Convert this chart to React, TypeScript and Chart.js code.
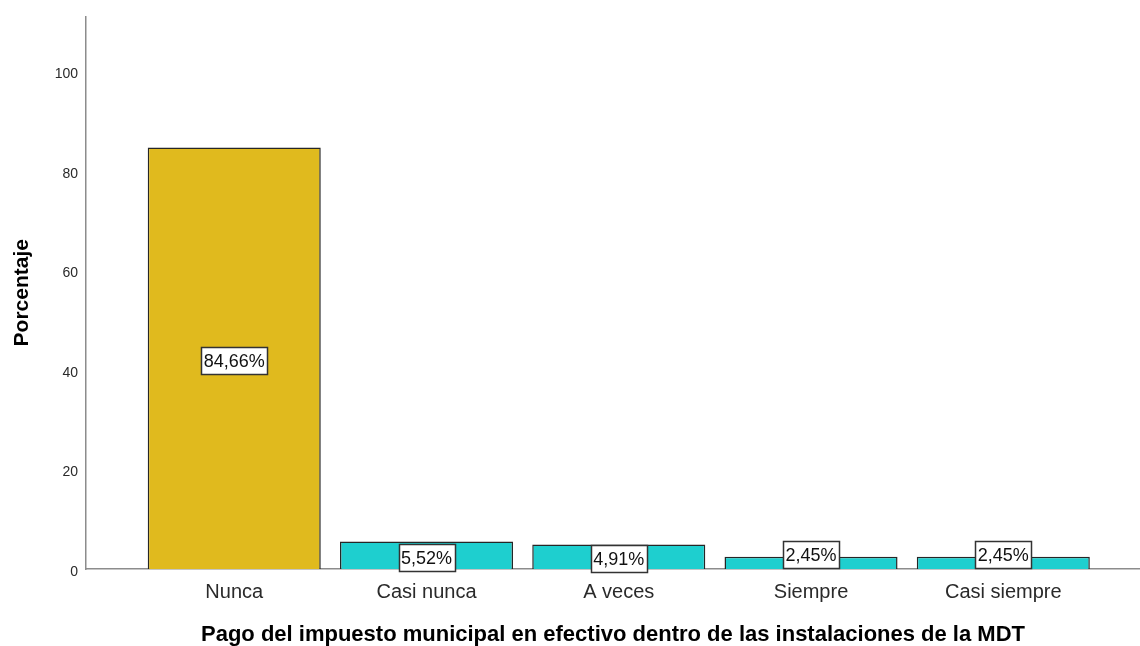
import React, { useEffect, useRef } from 'react';
import { Chart, registerables } from 'chart.js';

Chart.register(...registerables);

const categories = ['Nunca', 'Casi nunca', 'A veces', 'Siempre', 'Casi siempre'];
const percentages = [84.66, 5.52, 4.91, 2.45, 2.45];
const valueLabels = ['84,66%', '5,52%', '4,91%', '2,45%', '2,45%'];
const yTicks = [0, 20, 40, 60, 80, 100];
const xTitle = 'Pago del impuesto municipal en efectivo dentro de las instalaciones de la MDT';
const yTitle = 'Porcentaje';

const barColors = ['#E0BA1E', '#1ECFCF', '#1ECFCF', '#1ECFCF', '#1ECFCF'];
const FONT = '"Liberation Sans", Arial, sans-serif';

const boxLabels = {
  id: 'boxLabels',
  afterDatasetsDraw(chart: any) {
    const ctx = chart.ctx;
    const meta = chart.getDatasetMeta(0);
    ctx.save();
    ctx.font = `18px ${FONT}`;
    meta.data.forEach((bar: any, i: number) => {
      const { x, y, base } = bar.getProps(['x', 'y', 'base'], true);
      const text = valueLabels[i];
      const tw = ctx.measureText(text).width;
      const w = Math.round(tw + 5);
      const h = 27;
      let cy = (y + base) / 2 + 2;
      if (cy + h / 2 > base + 4) cy = base - 1 - h / 2;
      const left = Math.round(x - w / 2) + 0.5;
      const top = Math.round(cy - h / 2) + 0.5;
      ctx.fillStyle = '#ffffff';
      ctx.fillRect(left, top, w, h);
      ctx.strokeStyle = '#333333';
      ctx.lineWidth = 1.5;
      ctx.strokeRect(left, top, w, h);
      ctx.fillStyle = '#111111';
      ctx.textAlign = 'center';
      ctx.textBaseline = 'middle';
      ctx.fillText(text, x, top + h / 2 + 1);
    });
    ctx.restore();
  },
};

export default function App() {
  const ref = useRef<HTMLCanvasElement | null>(null);

  useEffect(() => {
    if (!ref.current) return;
    const chart = new Chart(ref.current, {
      type: 'bar',
      data: {
        datasets: [
          {
            data: percentages.map((v, i) => ({ x: i, y: v })),
            backgroundColor: barColors,
            borderColor: '#262626',
            borderWidth: 1.5,
            categoryPercentage: 1,
            barPercentage: 0.9,
          },
        ],
      },
      options: {
        responsive: false,
        animation: false,
        layout: { padding: { top: 14, left: 0, right: 0, bottom: 0 } },
        plugins: {
          legend: { display: false },
          tooltip: { enabled: false },
        },
        scales: {
          x: {
            type: 'linear',
            offset: false,
            min: -0.771,
            max: 4.711,
            grid: { display: false, drawTicks: false, offset: false },
            border: { display: true, color: '#8c8c8c', width: 1.5 },
            afterBuildTicks: (s: any) => {
              s.ticks = categories.map((_, i) => ({ value: i }));
            },
            afterFit: (s: any) => {
              s.height = 77;
            },
            ticks: {
              callback: (v: any) => categories[v] ?? '',
              padding: 11,
              autoSkip: false,
              maxRotation: 0,
              color: '#2a2a2a',
              font: { family: FONT, size: 20 },
            },
            title: {
              display: true,
              text: xTitle,
              color: '#000000',
              font: { family: FONT, size: 22, weight: 'bold', lineHeight: 1 },
              padding: { top: 0, bottom: 0 },
            },
          },
          y: {
            min: 0,
            max: 111,
            grid: { display: false, drawTicks: false },
            border: { display: true, color: '#8c8c8c', width: 1.5 },
            afterBuildTicks: (s: any) => {
              s.ticks = yTicks.map((v) => ({ value: v }));
            },
            afterFit: (s: any) => {
              s.width = 86;
            },
            ticks: {
              padding: 8,
              labelOffset: 3,
              color: '#2a2a2a',
              font: { family: FONT, size: 14 },
            },
            title: {
              display: true,
              text: yTitle,
              color: '#000000',
              font: { family: FONT, size: 21, weight: 'bold', lineHeight: 1 },
              padding: { top: 12, bottom: 0 },
            },
          },
        },
      },
      plugins: [boxLabels],
    } as any);
    return () => chart.destroy();
  }, []);

  return (
    <div style={{ position: 'absolute', left: 0, top: 0, width: 1140, height: 646, background: '#ffffff' }}>
      <canvas ref={ref} width={1140} height={646} />
    </div>
  );
}
